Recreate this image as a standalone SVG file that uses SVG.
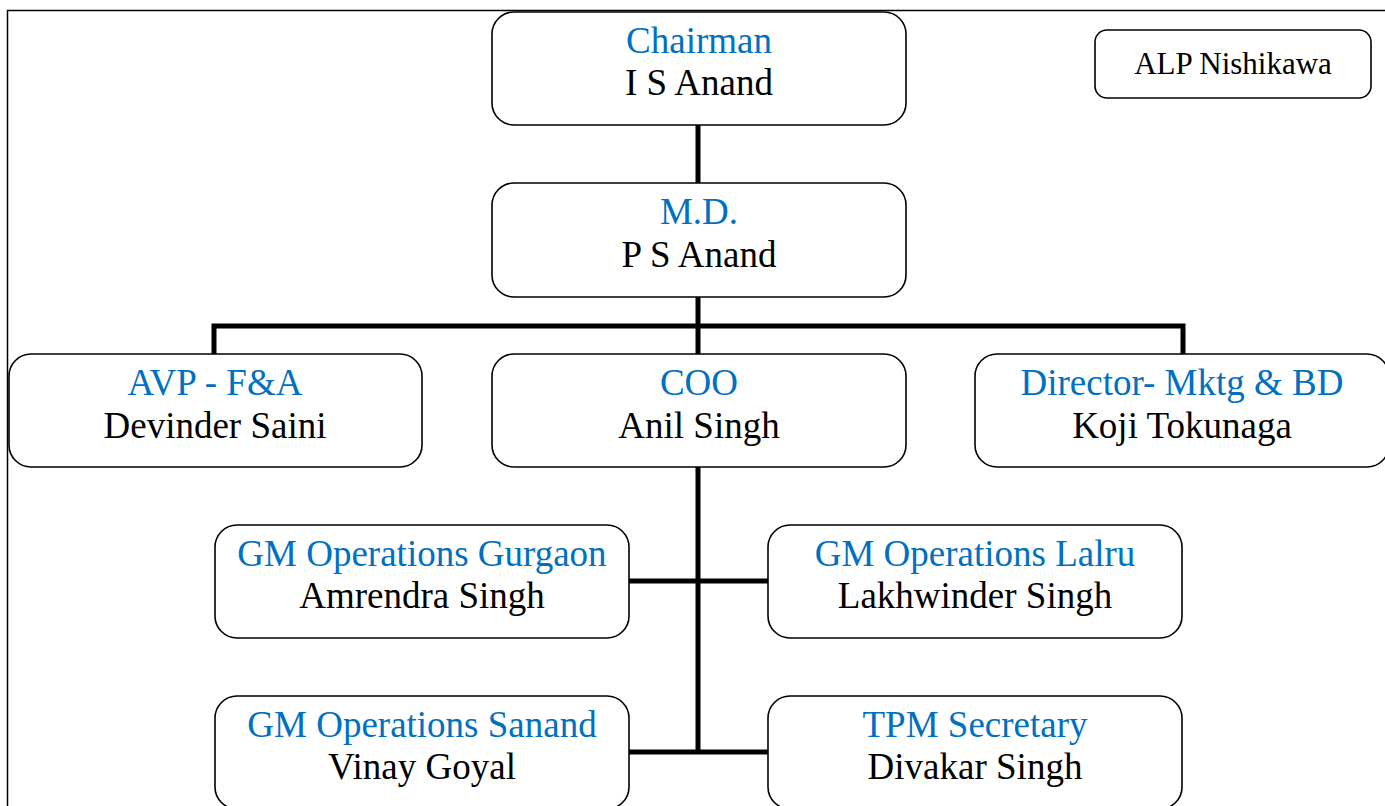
<svg xmlns="http://www.w3.org/2000/svg" width="1385" height="806" viewBox="0 0 1385 806">
<style>
.box{fill:#fff;stroke:#000;stroke-width:1.6}
.t{font-family:"Liberation Serif","Times New Roman",serif;font-size:37px;text-anchor:middle}
.title{fill:#0070C0}
.name{fill:#000}
.conn{stroke:#000;stroke-width:5;fill:none}
</style>
<rect x="7.5" y="10.5" width="1400" height="820" fill="none" stroke="#000" stroke-width="1.5"/>
<g id="connectors">
<line class="conn" x1="698" y1="125" x2="698" y2="183"/>
<line class="conn" x1="698" y1="297" x2="698" y2="354"/>
<polyline class="conn" points="214,354 214,326 1183,326 1183,354"/>
<line class="conn" x1="698" y1="467" x2="698" y2="754"/>
<line class="conn" x1="629" y1="581" x2="768" y2="581"/>
<line class="conn" x1="629" y1="752" x2="768" y2="752"/>
</g>
<g id="chairman">
<rect class="box" x="492" y="12" width="414" height="113" rx="22"/>
<text class="t title" x="699" y="53">Chairman</text>
<text class="t name" x="699" y="95">I S Anand</text>
</g>
<g id="alp">
<rect class="box" x="1095" y="30" width="276" height="68" rx="12"/>
<text class="t name" x="1233" y="74" style="font-size:31px">ALP Nishikawa</text>
</g>
<g id="md">
<rect class="box" x="492" y="183" width="414" height="114" rx="22"/>
<text class="t title" x="699" y="224">M.D.</text>
<text class="t name" x="699" y="267">P S Anand</text>
</g>
<g id="avp">
<rect class="box" x="9" y="354" width="413" height="113" rx="22"/>
<text class="t title" x="215" y="395">AVP - F&amp;A</text>
<text class="t name" x="215" y="438">Devinder Saini</text>
</g>
<g id="coo">
<rect class="box" x="492" y="354" width="414" height="113" rx="22"/>
<text class="t title" x="699" y="395">COO</text>
<text class="t name" x="699" y="438">Anil Singh</text>
</g>
<g id="director">
<rect class="box" x="975" y="354" width="414" height="113" rx="22"/>
<text class="t title" x="1182" y="395">Director- Mktg &amp; BD</text>
<text class="t name" x="1182" y="438">Koji Tokunaga</text>
</g>
<g id="gurgaon">
<rect class="box" x="215" y="525" width="414" height="113" rx="22"/>
<text class="t title" x="422" y="566">GM Operations Gurgaon</text>
<text class="t name" x="422" y="608">Amrendra Singh</text>
</g>
<g id="lalru">
<rect class="box" x="768" y="525" width="414" height="113" rx="22"/>
<text class="t title" x="975" y="566">GM Operations Lalru</text>
<text class="t name" x="975" y="608">Lakhwinder Singh</text>
</g>
<g id="sanand">
<rect class="box" x="215" y="696" width="414" height="113" rx="22"/>
<text class="t title" x="422" y="737">GM Operations Sanand</text>
<text class="t name" x="422" y="779">Vinay Goyal</text>
</g>
<g id="tpm">
<rect class="box" x="768" y="696" width="414" height="113" rx="22"/>
<text class="t title" x="975" y="737">TPM Secretary</text>
<text class="t name" x="975" y="779">Divakar Singh</text>
</g>
</svg>
